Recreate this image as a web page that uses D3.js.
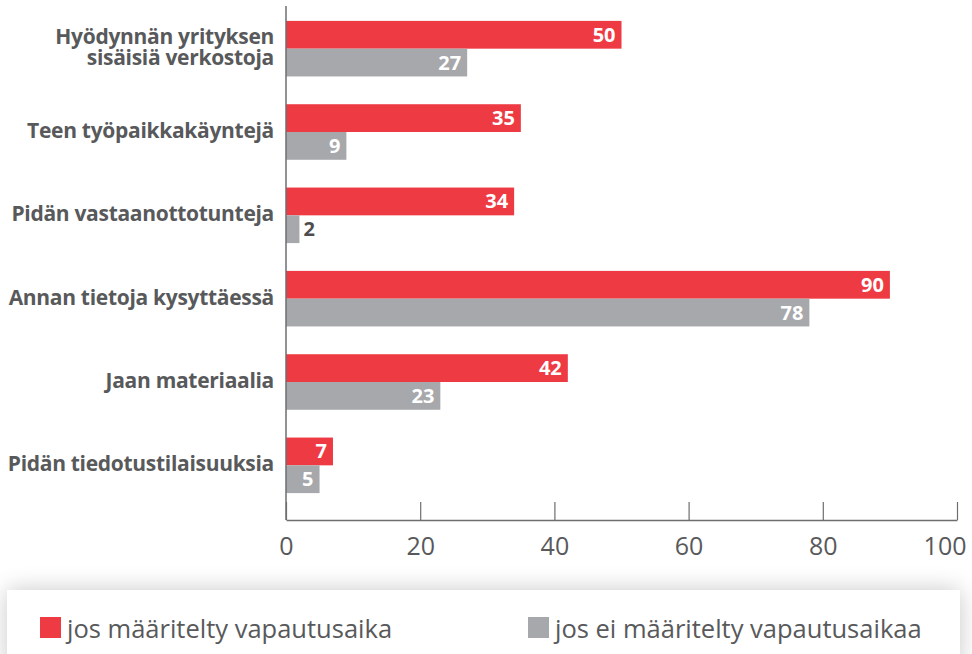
<!DOCTYPE html>
<html><head><meta charset="utf-8">
<script src="https://cdn.jsdelivr.net/npm/d3@7"></script>
<style>
html,body{margin:0;padding:0;background:#fff;}
svg{display:block;}
</style></head>
<body>
<svg id="chart" width="972" height="654"></svg>
<script>
const categories = [
  ["Hyödynnän yrityksen", "sisäisiä verkostoja"],
  ["Teen työpaikkakäyntejä"],
  ["Pidän vastaanottotunteja"],
  ["Annan tietoja kysyttäessä"],
  ["Jaan materiaalia"],
  ["Pidän tiedotustilaisuuksia"]
];
const seriesNames = ["jos määritelty vapautusaika", "jos ei määritelty vapautusaikaa"];
const definedValues = [50, 35, 34, 90, 42, 7];
const undefinedValues = [27, 9, 2, 78, 23, 5];
const xTicks = [0, 20, 40, 60, 80, 100];

const colors = ["#ee3a43", "#a7a8ab"];
const textColor = "#58595b";
const labelFont = "'Open Sans', 'DejaVu Sans', sans-serif";

const svg = d3.select("#chart");
const defs = svg.append("defs");
const f = defs.append("filter").attr("id","shadow").attr("x","-5%").attr("y","-80%").attr("width","110%").attr("height","260%");
f.append("feGaussianBlur").attr("in","SourceAlpha").attr("stdDeviation",12).attr("result","b");
f.append("feComponentTransfer").attr("in","b").attr("result","c").append("feFuncA").attr("type","linear").attr("slope",0.22);
const m = f.append("feMerge"); m.append("feMergeNode").attr("in","c"); m.append("feMergeNode").attr("in","SourceGraphic");

const x = d3.scaleLinear().domain([0, 100]).range([286, 957]);
const idx = categories.map((c, i) => i);
const y = d3.scaleBand().domain(idx).range([7, 507]).paddingInner(1/3).paddingOuter(1/6);
const sub = d3.scaleBand().domain([0, 1]).range([0, y.bandwidth()]);

const data = idx.map(i => ({i, vals: [definedValues[i], undefinedValues[i]]}));

const g = svg.append("g");
const groups = g.selectAll("g.grp").data(data).join("g").attr("class","grp")
  .attr("transform", d => `translate(0,${y(d.i)})`);

groups.selectAll("rect").data(d => d.vals.map((v, s) => ({v, s})))
  .join("rect")
  .attr("x", x(0))
  .attr("y", d => sub(d.s))
  .attr("width", d => x(d.v) - x(0))
  .attr("height", sub.bandwidth())
  .attr("fill", d => colors[d.s]);

groups.selectAll("text.val").data(d => d.vals.map((v, s) => ({v, s})))
  .join("text").attr("class","val")
  .attr("x", d => d.v < 4 ? x(d.v) + 4 : x(d.v) - 6)
  .attr("y", d => sub(d.s) + sub.bandwidth()/2 + 7)
  .attr("text-anchor", d => d.v < 4 ? "start" : "end")
  .attr("fill", d => d.v < 4 ? "#4d4d4f" : "#fff")
  .style("font-family", labelFont).style("font-weight", 700).style("font-size", "20px")
  .text(d => d.v);

// category labels
const cl = g.selectAll("text.cat").data(data).join("text").attr("class","cat")
  .attr("text-anchor","end")
  .attr("fill", textColor)
  .style("font-family", labelFont).style("font-weight", 700).style("font-size", "21px")
  .style("letter-spacing","-0.3px");
cl.each(function(d){
  const lines = categories[d.i];
  const cy = y(d.i) + y.bandwidth()/2;
  const lh = 21;
  const start = cy - (lines.length - 1) * lh / 2 + 6;
  d3.select(this).selectAll("tspan").data(lines).join("tspan")
    .attr("x", 274).attr("y", (t, k) => start + k * lh).text(t => t);
});

// axes
const axisY = 520;
const xAxis = d3.axisBottom(x).tickValues(xTicks).tickSizeInner(-18).tickSizeOuter(0).tickPadding(17).tickFormat(d3.format("d"));
const ax = svg.append("g").attr("transform", `translate(0,${axisY})`).call(xAxis);
ax.select(".domain").attr("stroke", "#6d6e70").attr("stroke-width", 1.5);
ax.selectAll(".tick line").attr("stroke", "#6d6e70").attr("stroke-width", 1.2);
ax.selectAll(".tick text").attr("fill", textColor).style("font-family", labelFont).style("font-size","25px").attr("dy","0.71em")
  .attr("text-anchor", d => d === 100 ? "end" : "middle")
  .attr("x", d => d === 100 ? 9 : 0);
svg.append("line").attr("x1", x(0)).attr("x2", x(0)).attr("y1", 6).attr("y2", axisY)
  .attr("stroke", "#6d6e70").attr("stroke-width", 1.5);

// legend
const lg = svg.append("g");
lg.append("rect").attr("x", 7).attr("y", 590).attr("width", 953).attr("height", 80).attr("fill","#fff").attr("filter","url(#shadow)");
const lx = [40, 528];
const items = lg.selectAll("g.li").data(seriesNames).join("g").attr("class","li")
  .attr("transform", (d, i) => `translate(${lx[i]},0)`);
items.append("rect").attr("x",0).attr("y",617).attr("width",21).attr("height",21).attr("fill",(d,i)=>colors[i]);
items.append("text").attr("x",27).attr("y",638).attr("fill",textColor)
  .style("font-family", labelFont).style("font-size","25.5px").text(d => d);
</script>
</body></html>
